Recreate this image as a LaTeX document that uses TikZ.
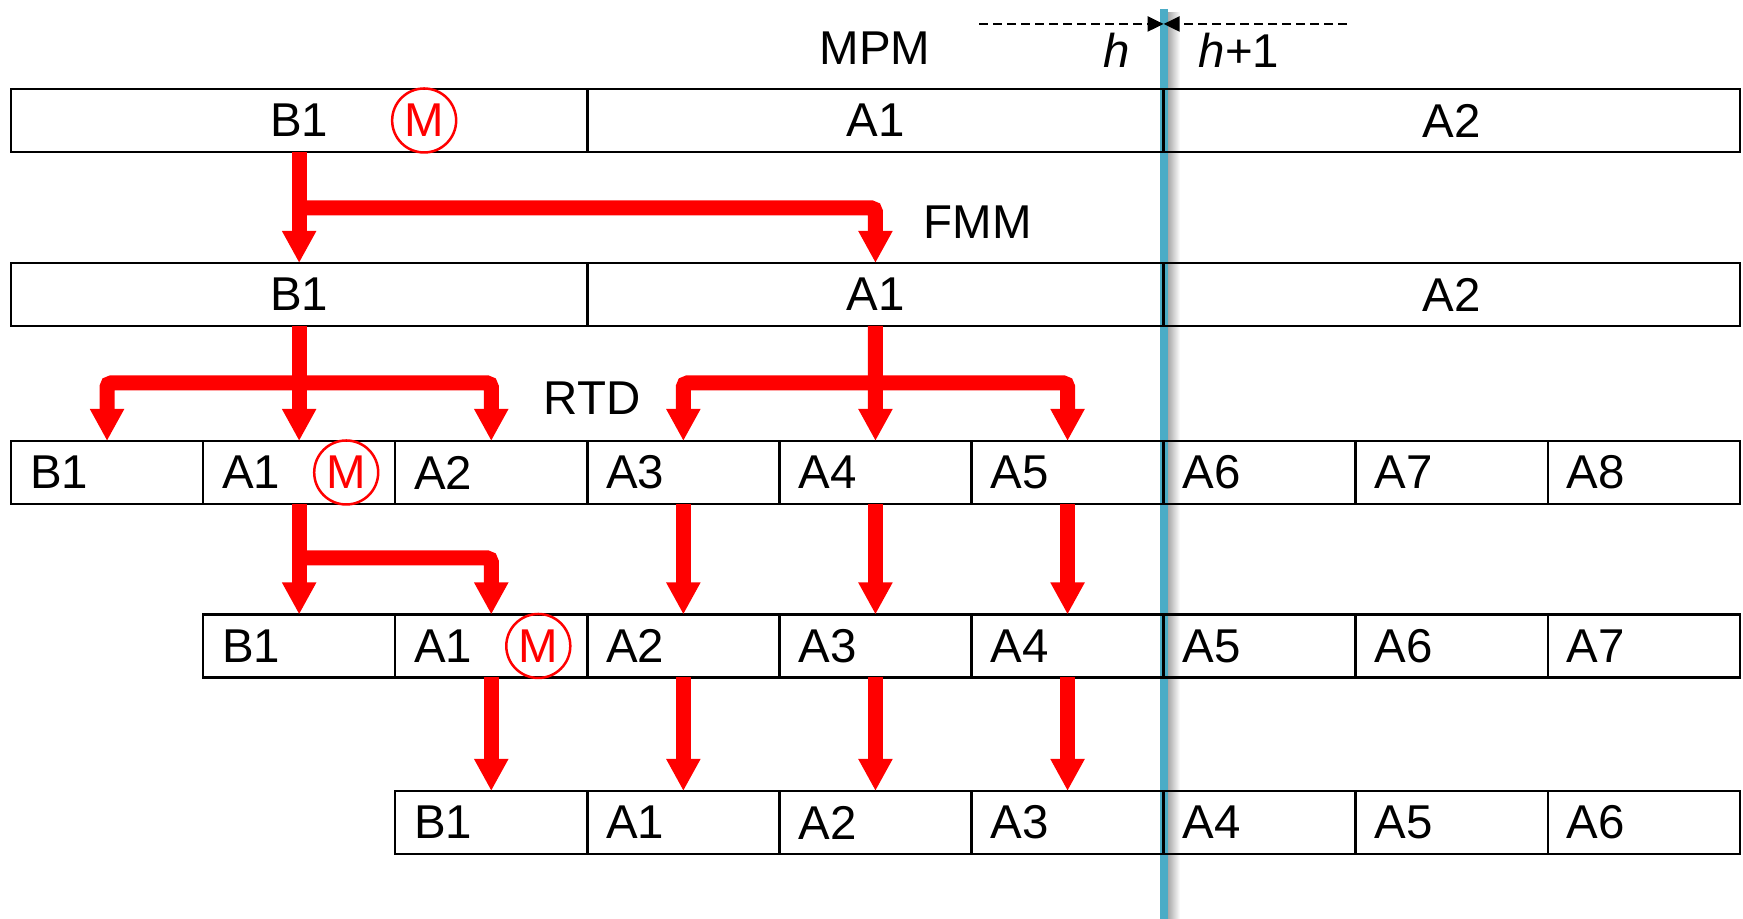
\documentclass[tikz,border=0pt]{standalone}
\usepackage{fontspec}
\setmainfont{Liberation Sans}
\usepackage{tikz}
\usetikzlibrary{arrows.meta}
\usetikzlibrary{calc}

\definecolor{hblue}{HTML}{4BACC6}

\tikzset{
  lbl/.style={font=\fontsize{13.5}{15}\selectfont, inner sep=0pt},
  cell/.style={draw, line width=0.025cm, minimum width=1.921cm, minimum height=0.63cm,
    inner xsep=0.19cm, inner ysep=0pt, text width=1.541cm, align=left, outer sep=0pt,
    font=\fontsize{13.5}{15}\selectfont},
  wide/.style={cell, minimum width=5.763cm, text width=5.383cm, align=center},
  mcirc/.style={circle, draw=red, text=red, line width=0.025cm, minimum size=0.64cm,
    inner sep=0pt, font=\fontsize{13.5}{15}\selectfont},
  flow/.style={red, line width=0.15cm, -{Triangle[width=0.32cm,length=0.32cm]}},
  split/.style={red, line width=0.15cm, rounded corners=0.04cm,
    {Triangle[width=0.32cm,length=0.32cm]}-{Triangle[width=0.32cm,length=0.32cm]}},
  turn/.style={flow, rounded corners=0.04cm},
  bound/.style={dash pattern=on 0.09cm off 0.05cm, line width=0.022cm,
    -{Triangle[width=0.15cm,length=0.16cm]}},
}

\begin{document}
\begin{tikzpicture}
  \useasboundingbox (0,0) rectangle (17.43,9.19);

  % time boundary between h and h+1
  \coordinate (htop) at (11.636, 9.10);
  \coordinate (hbot) at (11.636, 0);
  \shade[left color=black!35, right color=white] (11.676,0) rectangle (11.80,9.06);
  \draw[hblue, line width=0.08cm] (htop) -- (hbot);

  \coordinate (dl) at ( 9.79, 8.95);
  \coordinate (dr) at (13.47, 8.95);
  \coordinate (dm) at (11.636, 8.95);
  \draw[bound] (dl) -- (dm);
  \draw[bound] (dr) -- (dm);

  \node[lbl] (mpm) at ( 8.75, 8.71) {MPM};
  \node[lbl] (hl)  at (11.17, 8.69) {\itshape h};
  \node[lbl] (hr)  at (12.39, 8.69) {{\itshape h}+1};
  \node[lbl] (fmm) at ( 9.78, 6.97) {FMM};
  \node[lbl] (rtd) at ( 5.92, 5.21) {RTD};

  % macro blocks
  \node[wide] (r1b) at ( 2.9915, 7.985) {B1};
  \node[wide] (r1a) at ( 8.7545, 7.985) {A1};
  \node[wide] (r1c) at (14.5175, 7.985) {A2};
  \node[wide] (r2b) at ( 2.9915, 6.245) {B1};
  \node[wide] (r2a) at ( 8.7545, 6.245) {A1};
  \node[wide] (r2c) at (14.5175, 6.245) {A2};

  % small blocks
  \foreach \t [count=\i] in {B1,A1,A2,A3,A4,A5,A6,A7,A8}
    \node[cell] (r3c\i) at ({1.0705+(\i-1)*1.921}, 4.465) {\t};
  \foreach \t [count=\i from 2] in {B1,A1,A2,A3,A4,A5,A6,A7}
    \node[cell] (r4c\i) at ({1.0705+(\i-1)*1.921}, 2.73) {\t};
  \foreach \t [count=\i from 3] in {B1,A1,A2,A3,A4,A5,A6}
    \node[cell] (r5c\i) at ({1.0705+(\i-1)*1.921}, 0.965) {\t};

  \node[mcirc] (m1) at ([xshift=1.25cm]r1b.center) {M};
  \node[mcirc] (m3) at ([xshift=-0.49cm]r3c2.east) {M};
  \node[mcirc] (m4) at ([xshift=-0.49cm]r4c3.east) {M};

  % FMM
  \coordinate (s1) at (0, 7.11);
  \draw (r1b.south) edge[flow] (r2b.north);
  \draw[turn] (r1b.south |- s1) -| (r2a.north);

  % RTD
  \coordinate (s2) at (0, 5.36);
  \draw (r2b.south) edge[flow] (r3c2.north);
  \draw[split] (r3c1.north) |- (r3c3.north |- s2) -- (r3c3.north);
  \draw (r2a.south) edge[flow] (r3c5.north);
  \draw[split] (r3c4.north) |- (r3c6.north |- s2) -- (r3c6.north);

  \coordinate (s3) at (0, 3.61);
  \draw (r3c2.south) edge[flow] (r4c2.north);
  \draw[turn] (r3c2.south |- s3) -| (r4c3.north);
  \foreach \c in {4,5,6}
    \draw (r3c\c.south) edge[flow] (r4c\c.north);
  \foreach \c in {3,4,5,6}
    \draw (r4c\c.south) edge[flow] (r5c\c.north);
\end{tikzpicture}
\end{document}
